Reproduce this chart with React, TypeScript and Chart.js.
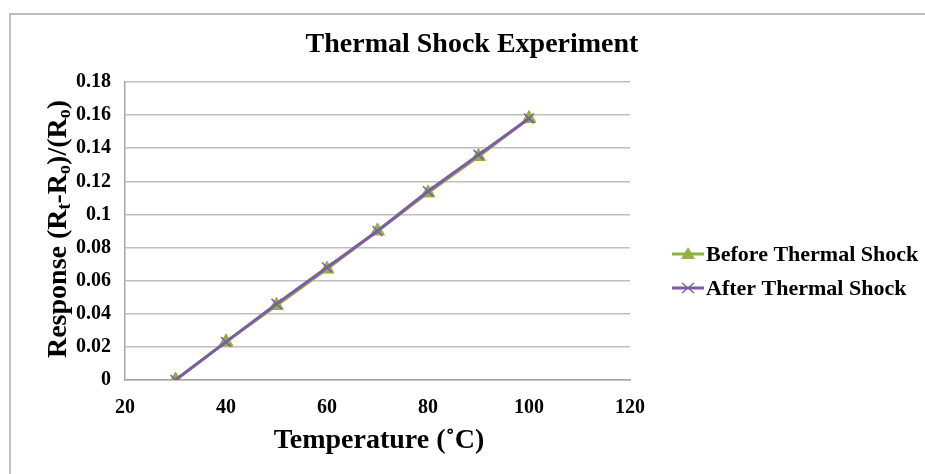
import React, { useEffect, useRef } from "react";
import { Chart, registerables } from "chart.js";

Chart.register(...registerables);

const chartTitle = "Thermal Shock Experiment";
const xAxisTitle = "Temperature (˚C)";
const seriesNames = ["Before Thermal Shock", "After Thermal Shock"];
const temperatures = [30, 40, 50, 60, 70, 80, 90, 100];
const beforeShock = [0, 0.023, 0.045, 0.067, 0.09, 0.113, 0.135, 0.158];
const afterShock = [0, 0.023, 0.046, 0.068, 0.09, 0.114, 0.136, 0.158];
const xTicks = [20, 40, 60, 80, 100, 120];
const yTicks = [0, 0.02, 0.04, 0.06, 0.08, 0.1, 0.12, 0.14, 0.16, 0.18];
// y-axis title segments: [text, isSubscript]
const yAxisTitleParts: [string, boolean][] = [
  ["Response (R", false],
  ["t", true],
  ["-R", false],
  ["o", true],
  [")/(R", false],
  ["o", true],
  [")", false],
];

const GREEN = "#8FB33F";
const PURPLE = "#7D5BA6";
const FONT = "'Liberation Serif', 'Times New Roman', serif";

const decorPlugin = {
  id: "decor",
  afterDraw(chart: any) {
    const ctx = chart.ctx as CanvasRenderingContext2D;
    const area = chart.chartArea;
    ctx.save();
    // title
    ctx.fillStyle = "#000";
    ctx.font = `bold 28px ${FONT}`;
    ctx.textAlign = "center";
    ctx.textBaseline = "middle";
    ctx.fillText(chartTitle, 472, 45);

    // x axis title
    ctx.font = `bold 28px ${FONT}`;
    ctx.fillText(xAxisTitle, 379, 441);

    // y axis title with subscripts
    const mainFont = `bold 28px ${FONT}`;
    const subFont = `bold 18px ${FONT}`;
    let total = 0;
    for (const [t, sub] of yAxisTitleParts) {
      ctx.font = sub ? subFont : mainFont;
      total += ctx.measureText(t).width;
    }
    ctx.translate(56, 229);
    ctx.rotate(-Math.PI / 2);
    ctx.textAlign = "left";
    ctx.textBaseline = "alphabetic";
    let x = -total / 2;
    for (const [t, sub] of yAxisTitleParts) {
      ctx.font = sub ? subFont : mainFont;
      ctx.fillText(t, x, sub ? 14 : 10);
      x += ctx.measureText(t).width;
    }
    ctx.restore();

    // legend
    ctx.save();
    const lx = area.right + 42;
    const items = [
      { name: seriesNames[0], color: GREEN, style: "triangle" },
      { name: seriesNames[1], color: PURPLE, style: "cross" },
    ];
    items.forEach((it, i) => {
      const y = 254 + i * 34;
      ctx.strokeStyle = it.color;
      ctx.lineWidth = 3;
      ctx.beginPath();
      ctx.moveTo(lx, y);
      ctx.lineTo(lx + 32, y);
      ctx.stroke();
      const cx = lx + 16;
      if (it.style === "triangle") {
        ctx.fillStyle = it.color;
        ctx.beginPath();
        ctx.moveTo(cx, y - 7);
        ctx.lineTo(cx + 7, y + 5);
        ctx.lineTo(cx - 7, y + 5);
        ctx.closePath();
        ctx.fill();
      } else {
        ctx.lineWidth = 1.2;
        ctx.beginPath();
        ctx.moveTo(cx - 6, y - 5);
        ctx.lineTo(cx + 6, y + 5);
        ctx.moveTo(cx + 6, y - 5);
        ctx.lineTo(cx - 6, y + 5);
        ctx.stroke();
      }
      ctx.fillStyle = "#000";
      ctx.font = `bold 22px ${FONT}`;
      ctx.textAlign = "left";
      ctx.textBaseline = "middle";
      ctx.fillText(it.name, lx + 34, y + 1);
    });
    ctx.restore();
  },
};

export default function App() {
  const ref = useRef<HTMLCanvasElement | null>(null);
  useEffect(() => {
    if (!ref.current) return;
    const chart = new Chart(ref.current, {
      type: "line",
      data: {
        datasets: [
          {
            label: seriesNames[0],
            data: temperatures.map((t, i) => ({ x: t, y: beforeShock[i] })),
            borderColor: GREEN,
            backgroundColor: GREEN,
            borderWidth: 3,
            pointStyle: "triangle",
            pointRadius: 8,
            pointBorderWidth: 1,
            order: 2,
          },
          {
            label: seriesNames[1],
            data: temperatures.map((t, i) => ({ x: t, y: afterShock[i] })),
            borderColor: PURPLE,
            backgroundColor: PURPLE,
            borderWidth: 3,
            pointStyle: "crossRot",
            pointRadius: 7,
            pointBorderWidth: 1.5,
            order: 1,
          },
        ],
      },
      options: {
        animation: false,
        responsive: false,
        layout: { padding: { left: 0, top: 82, right: 295, bottom: 0 } },
        plugins: {
          legend: { display: false },
          title: { display: false },
          tooltip: { enabled: false },
        },
        scales: {
          x: {
            type: "linear",
            min: xTicks[0],
            max: xTicks[xTicks.length - 1],
            afterBuildTicks: (s: any) => {
              s.ticks = xTicks.map((v) => ({ value: v }));
            },
            afterFit: (s: any) => {
              s.height = 94;
            },
            grid: { display: false, drawTicks: false },
            border: { display: true, color: "#A6A6A6", width: 1.5 },
            ticks: {
              padding: 16,
              color: "#000",
              font: { family: FONT, size: 20, weight: "bold" },
              maxRotation: 0,
            },
          },
          y: {
            type: "linear",
            min: yTicks[0],
            max: yTicks[yTicks.length - 1],
            afterBuildTicks: (s: any) => {
              s.ticks = yTicks.map((v) => ({ value: v }));
            },
            afterFit: (s: any) => {
              s.width = 125;
            },
            grid: { color: "#BFBFBF", lineWidth: 1.5, drawTicks: false },
            border: { display: true, color: "#A6A6A6", width: 1.5 },
            ticks: {
              padding: 14,
              color: "#000",
              font: { family: FONT, size: 20, weight: "bold" },
              callback: (v: any) => String(parseFloat(Number(v).toFixed(2))),
            },
          },
        },
      },
      plugins: [decorPlugin],
    });
    return () => chart.destroy();
  }, []);

  return (
    <div style={{ position: "fixed", left: 0, top: 0, width: 925, height: 474, background: "#fff", overflow: "hidden" }}>
      <div
        style={{
          position: "absolute",
          left: 9,
          top: 13,
          width: 940,
          height: 480,
          borderTop: "2px solid #BEBEBE",
          borderLeft: "2px solid #BEBEBE",
        }}
      />
      <canvas ref={ref} width={925} height={474} style={{ position: "absolute", left: 0, top: 0, width: 925, height: 474 }} />
    </div>
  );
}
